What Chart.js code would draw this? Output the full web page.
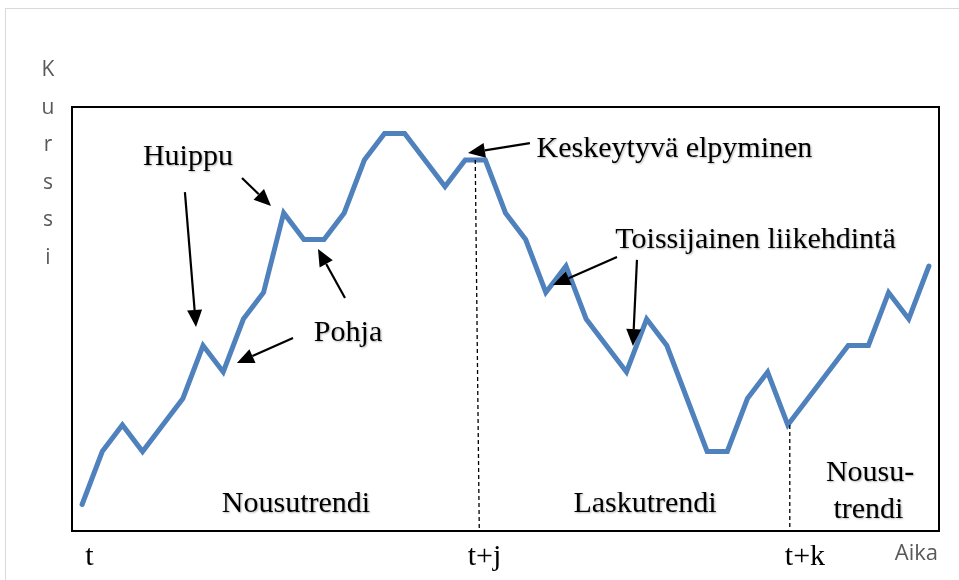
<!DOCTYPE html>
<html>
<head>
<meta charset="utf-8">
<style>
html, body { margin: 0; padding: 0; background: #fff; }
#wrap { width: 959px; height: 580px; position: relative; }
</style>
</head>
<body>
<div id="wrap"><canvas id="myChart" width="959" height="580"></canvas></div>
<script src="https://cdn.jsdelivr.net/npm/chart.js@4/dist/chart.umd.min.js"></script>
<script>
// periods (time steps) and the price series
var periods = [0, 1, 2, 3, 4, 5, 6, 7, 8, 9, 10, 11, 12, 13, 14, 15, 16, 17, 18, 19, 20,
               21, 22, 23, 24, 25, 26, 27, 28, 29, 30, 31, 32, 33, 34, 35, 36, 37, 38, 39, 40, 41, 42];
var kurssi = [0, 2, 3, 2, 3, 4, 6, 5, 7, 8, 11, 10, 10, 11, 13, 14, 14, 13, 12, 13, 13,
              11, 10, 8, 9, 7, 6, 5, 7, 6, 4, 2, 2, 4, 5, 3, 4, 5, 6, 6, 8, 7, 9];

// time tick labels under the axis and where they sit (period index)
var timeLabels = ['t', 't+j', 't+k'];
var timeAt = [0.37, 19.96, 35.85];

// vertical axis title, letter by letter
var yLetters = ['K', 'u', 'r', 's', 's', 'i'];

// annotations: text, centre period, baseline value
var notes = [
    ['Huippu', 5.25, 12.81],
    ['Pohja', 13.19, 6.17],
    ['Keskeytyvä elpyminen', 29.38, 13.11],
    ['Toissijainen liikehdintä', 33.4, 9.68],
    ['Nousutrendi', 10.61, -0.28],
    ['Laskutrendi', 27.92, -0.28],
    ['Nousu-', 39.08, 0.89],
    ['trendi', 39.0, -0.51]
];

// arrows: from (period, value) to tip (period, value)
var arrows = [
    [5.10, 11.79, 5.65, 6.70],
    [7.93, 12.32, 9.37, 11.26],
    [10.46, 6.28, 7.68, 5.34],
    [13.04, 7.79, 11.70, 9.64],
    [22.21, 13.64, 19.14, 13.26],
    [26.53, 9.34, 23.36, 8.28],
    [27.52, 9.23, 27.32, 5.98]
];

// dashed trend dividers: top period, top value, bottom period
var dividers = [
    [19.5, 13, 19.7],
    [35.1, 3, 35.1]
];

function drawArrow(ctx, x1, y1, x2, y2) {
    var a = Math.atan2(y2 - y1, x2 - x1);
    var L = 17, W = 7.5;
    var bx = x2 - L * Math.cos(a), by = y2 - L * Math.sin(a);
    ctx.beginPath();
    ctx.moveTo(x1, y1);
    ctx.lineTo(bx, by);
    ctx.stroke();
    ctx.beginPath();
    ctx.moveTo(x2, y2);
    ctx.lineTo(bx + W * Math.sin(a), by - W * Math.cos(a));
    ctx.lineTo(bx - W * Math.sin(a), by + W * Math.cos(a));
    ctx.closePath();
    ctx.fill();
}

var extras = {
    id: 'extras',
    beforeDraw: function (chart) {
        var ctx = chart.ctx;
        ctx.save();
        ctx.strokeStyle = '#d9d9d9';
        ctx.lineWidth = 1;
        ctx.strokeRect(5.5, 8.5, 1000, 1000);
        ctx.restore();
    },
    afterDraw: function (chart) {
        var ctx = chart.ctx, a = chart.chartArea;
        var xs = chart.scales.x, ys = chart.scales.y;
        var px = function (v) { return xs.getPixelForValue(v); };
        var py = function (v) { return ys.getPixelForValue(v); };
        ctx.save();

        // plot frame
        ctx.strokeStyle = '#000';
        ctx.lineWidth = 2;
        ctx.strokeRect(a.left, a.top, a.right - a.left, a.bottom - a.top);

        // dashed dividers
        ctx.lineWidth = 1.3;
        ctx.setLineDash([4, 3]);
        dividers.forEach(function (d) {
            ctx.beginPath();
            ctx.moveTo(px(d[0]), py(d[1]));
            ctx.lineTo(px(d[2]), a.bottom);
            ctx.stroke();
        });
        ctx.setLineDash([]);

        // arrows
        ctx.lineWidth = 2.2;
        ctx.fillStyle = '#000';
        arrows.forEach(function (r) {
            drawArrow(ctx, px(r[0]), py(r[1]), px(r[2]), py(r[3]));
        });

        // annotation texts
        ctx.font = '30px "Liberation Serif", "Times New Roman", serif';
        ctx.textAlign = 'center';
        ctx.textBaseline = 'alphabetic';
        ctx.shadowColor = 'rgba(0,0,0,0.3)';
        ctx.shadowBlur = 2;
        ctx.shadowOffsetX = 1;
        ctx.shadowOffsetY = 1;
        notes.forEach(function (n) {
            ctx.fillText(n[0], px(n[1]), py(n[2]));
        });
        ctx.shadowColor = 'transparent';

        // time labels
        timeLabels.forEach(function (t, i) {
            ctx.fillText(t, px(timeAt[i]), a.bottom + 34);
        });

        // axis titles
        ctx.fillStyle = '#595959';
        ctx.font = '21px "Open Sans", sans-serif';
        ctx.textBaseline = 'middle';
        yLetters.forEach(function (c, i) {
            ctx.fillText(c, a.left - 24, a.top - 37 + i * 37.6);
        });
        ctx.textAlign = 'right';
        ctx.textBaseline = 'alphabetic';
        ctx.font = '22px "Open Sans", sans-serif';
        ctx.fillText('Aika', a.right - 1, a.bottom + 29);

        ctx.restore();
    }
};

var ctx = document.getElementById('myChart').getContext('2d');
var chart = new Chart(ctx, {
    type: 'line',
    data: {
        labels: periods,
        datasets: [{
            label: 'Kurssi',
            data: kurssi,
            borderColor: '#4f81bd',
            borderWidth: 5,
            borderCapStyle: 'round',
            borderJoinStyle: 'miter',
            pointRadius: 0,
            tension: 0,
            fill: false
        }]
    },
    options: {
        responsive: false,
        animation: false,
        layout: { padding: { left: 72, top: 107, right: 20, bottom: 49 } },
        plugins: { legend: { display: false }, tooltip: { enabled: false } },
        scales: {
            x: { type: 'category', offset: true, display: false },
            y: { min: -1, max: 15, display: false }
        }
    },
    plugins: [extras]
});
</script>
</body>
</html>
